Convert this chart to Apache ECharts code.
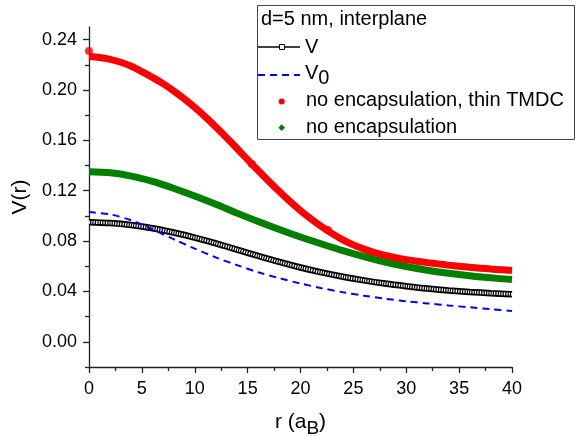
<!DOCTYPE html>
<html><head><meta charset="utf-8">
<script src="https://cdn.jsdelivr.net/npm/echarts@6/dist/echarts.min.js"></script>
<style>html,body{margin:0;padding:0;background:#fff}#c{width:585px;height:437px}</style>
</head><body><div id="c"></div>
<script>
// ---- data ----
const rCoarse = [0,2,4,6,8,10,12,14,16,18,20,22,24,26,28,30,32,34,36,38,40];
const vValues = [0.095,0.0943,0.0927,0.0902,0.0868,0.0828,0.0782,0.0732,0.0682,0.0634,0.0590,0.0551,0.0517,0.0488,0.0463,0.0442,0.0423,0.0408,0.0396,0.0386,0.0378];
const v0Values = [0.103,0.1012,0.0965,0.0893,0.0815,0.0740,0.0670,0.0609,0.0552,0.0505,0.0463,0.0426,0.0394,0.0366,0.0342,0.0322,0.0305,0.0289,0.0274,0.0259,0.0245];
const greenValues = [0.135,0.1342,0.1316,0.1274,0.1220,0.1158,0.1092,0.1022,0.0955,0.0892,0.0832,0.0777,0.0724,0.0677,0.0634,0.0598,0.0568,0.0544,0.0524,0.0508,0.0494];
const rFine = [0,1,2,3,4,5,6,7,8,9,10,11,12,13,14,15,16,17,18,19,20,21,22,23,24,25,26,27,28,29,30,31,32,33,34,35,36,37,38,39,40];
const redValues = [0.2265,0.2258,0.2243,0.2220,0.2188,0.2146,0.2100,0.2050,0.1993,0.1930,0.1861,0.1786,0.1706,0.1622,0.1535,0.1447,0.1360,0.1275,0.1193,0.1115,0.1042,0.0975,0.0914,0.0859,0.0810,0.0770,0.0736,0.0708,0.0686,0.0668,0.0653,0.0640,0.0629,0.0619,0.0609,0.0600,0.0592,0.0585,0.0578,0.0572,0.0566];
const redDotsR = [0,15.4,22.6];
const redDotsV = [0.231,0.1412,0.0887];
const yMajorTicks = [0,0.04,0.08,0.12,0.16,0.20,0.24];
const yMinorTicks = [-0.02,0.02,0.06,0.10,0.14,0.18,0.22];
const legendTitle = 'd=5 nm, interplane';
const legendLabels = ['V','V0','no encapsulation, thin TMDC','no encapsulation'];

const zip = (xs, ys) => xs.map((x, i) => [x, ys[i]]);
const FONT = '"Liberation Sans", Arial, sans-serif';
const AX = '#222';
const SM = 0.3;

const chart = echarts.init(document.getElementById('c'), null, {renderer: 'canvas'});
const option = {
  animation: false,
  grid: {left: 89, right: 73, top: 27, bottom: 70, containLabel: false, outerBoundsMode: 'none'},
  xAxis: {
    type: 'value', min: 0, max: 40, interval: 5,
    axisLine: {onZero: false, lineStyle: {color: AX, width: 1.3}},
    axisTick: {show: true, length: 6, lineStyle: {color: AX, width: 1.3}},
    minorTick: {show: true, splitNumber: 2, length: 4, lineStyle: {color: AX, width: 1.3}},
    splitLine: {show: false},
    axisLabel: {fontSize: 18, color: '#000', margin: 13, fontFamily: FONT},
    name: '{a|r (a}{b|B}{a|)}', nameLocation: 'middle', nameGap: 40,
    nameTextStyle: {rich: {
      a: {fontSize: 21, fontFamily: FONT, color: '#000'},
      b: {fontSize: 19, fontFamily: FONT, color: '#000', padding: [12, 0, 0, 0]}
    }}
  },
  yAxis: [{
    type: 'value', min: -0.02, max: 0.25, interval: 0.02,
    axisLine: {show: true, onZero: false, lineStyle: {color: AX, width: 1.3}},
    axisTick: {show: true, length: 6, customValues: yMajorTicks, lineStyle: {color: AX, width: 1.3}},
    axisLabel: {customValues: yMajorTicks, formatter: v => v.toFixed(2), fontSize: 18, color: '#000', margin: 12, fontFamily: FONT},
    splitLine: {show: false},
    name: 'V(r)', nameLocation: 'middle', nameGap: 46,
    nameTextStyle: {fontSize: 21, fontFamily: FONT, color: '#000'}
  }, {
    type: 'value', min: -0.02, max: 0.25, interval: 0.02, position: 'left', offset: 0,
    axisLine: {show: false, onZero: false},
    axisTick: {show: true, length: 4, customValues: yMinorTicks, lineStyle: {color: AX, width: 1.3}},
    axisLabel: {show: false}, splitLine: {show: false}
  }],
  series: [
    {name: legendLabels[3], type: 'line', data: zip(rCoarse, greenValues), smooth: SM, showSymbol: false,
     lineStyle: {color: '#008000', width: 7}, z: 2},
    {name: legendLabels[2], type: 'line', data: zip(rFine, redValues), smooth: SM, showSymbol: false,
     lineStyle: {color: '#ff0000', width: 7}, z: 2},
    {name: legendLabels[0], type: 'line', data: zip(rCoarse, vValues), smooth: SM, showSymbol: false,
     lineStyle: {color: '#000', width: 6.5}, z: 3},
    {name: legendLabels[0] + ' fill', type: 'line', data: zip(rCoarse, vValues), smooth: SM, showSymbol: false,
     lineStyle: {color: '#fff', width: 3, type: [1.2, 1.2]}, z: 4},
    {name: legendLabels[1], type: 'line', data: zip(rCoarse, v0Values), smooth: SM, showSymbol: false,
     lineStyle: {color: '#0000ff', width: 2, type: [7, 5]}, z: 5},
    {name: legendLabels[2] + ' dots', type: 'scatter', data: zip(redDotsR, redDotsV), symbol: 'circle', symbolSize: 8,
     itemStyle: {color: '#ff0000'}, z: 6}
  ],
  graphic: [
    {type: 'rect', shape: {x: 257.5, y: 5.5, width: 317, height: 134}, style: {fill: 'none', stroke: '#444', lineWidth: 1}, z: 10},
    {type: 'text', style: {text: legendTitle, x: 261, y: 19, font: '20px ' + FONT, fill: '#000', verticalAlign: 'middle'}, z: 10},
    {type: 'line', shape: {x1: 258, y1: 47, x2: 300, y2: 47}, style: {stroke: '#000', lineWidth: 1.3}, z: 10},
    {type: 'rect', shape: {x: 279.5, y: 44.5, width: 5, height: 5}, style: {fill: '#fff', stroke: '#000', lineWidth: 1}, z: 11},
    {type: 'text', style: {text: legendLabels[0], x: 305, y: 47, font: '20px ' + FONT, fill: '#000', verticalAlign: 'middle'}, z: 10},
    {type: 'line', shape: {x1: 258, y1: 75, x2: 300, y2: 75}, style: {stroke: '#0000ff', lineWidth: 2, lineDash: [7, 5]}, z: 10},
    {type: 'text', style: {text: '{a|V}{b|0}', x: 305, y: 73, verticalAlign: 'middle',
      rich: {a: {fontSize: 20, fontFamily: FONT, fill: '#000'}, b: {fontSize: 20, fontFamily: FONT, fill: '#000', padding: [10, 0, 0, 0]}}}, z: 10},
    {type: 'circle', shape: {cx: 281.7, cy: 101.5, r: 3}, style: {fill: '#ff0000'}, z: 10},
    {type: 'text', style: {text: legendLabels[2], x: 306, y: 100, font: '20px ' + FONT, fill: '#000', verticalAlign: 'middle'}, z: 10},
    {type: 'polygon', shape: {points: [[281.7, 124.3], [285, 127.7], [281.7, 131], [278.4, 127.7]]}, style: {fill: '#008000'}, z: 10},
    {type: 'text', style: {text: legendLabels[3], x: 306, y: 127, font: '20px ' + FONT, fill: '#000', verticalAlign: 'middle'}, z: 10}
  ]
};
chart.setOption(option);
</script>
</body></html>
